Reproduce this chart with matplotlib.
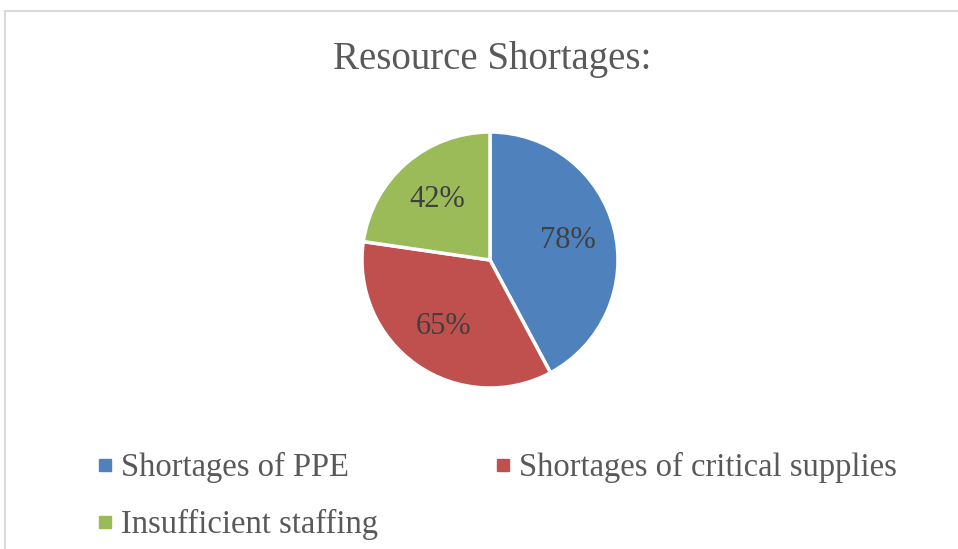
#!/usr/bin/env python3
"""Resource shortages pie chart."""

import matplotlib
matplotlib.use("Agg")
import matplotlib.pyplot as plt
import numpy as np
from matplotlib.lines import Line2D
from matplotlib.patches import Rectangle

TITLE = "Resource Shortages:"
CATEGORIES = ["Shortages of PPE", "Shortages of critical supplies", "Insufficient staffing"]
VALUES = [78, 65, 42]
COLORS = ["#4F81BD", "#C0504D", "#9BBB59"]

plt.rcParams["font.family"] = ["Liberation Serif", "DejaVu Serif"]

W, H = 958, 549
fig = plt.figure(figsize=(W / 100, H / 100), dpi=100)

# light grey chart border (top and left visible)
fig.patches.append(Rectangle((5 / W, -0.1), 2.0, (H - 11) / H + 0.1,
                             transform=fig.transFigure, fill=False,
                             edgecolor="#D9D9D9", linewidth=1.5))

fig.text(492 / W, 1 - 59 / H, TITLE, ha="center", va="center",
         fontsize=28, color="#595959")

cx, cy, r = 490, 260, 128
ax = fig.add_axes([(cx - r) / W, (H - cy - r) / H, 2 * r / W, 2 * r / H])
wedges, _ = ax.pie(VALUES, colors=COLORS, startangle=90, counterclock=False,
                   wedgeprops={"edgecolor": "white", "linewidth": 2.5})
ax.set_xlim(-1, 1)
ax.set_ylim(-1, 1)

total = sum(VALUES)
angle = 90.0
for v in VALUES:
    span = v / total * 360
    mid = np.deg2rad(angle - span / 2)
    ax.text(0.63 * np.cos(mid), 0.63 * np.sin(mid), f"{v}%", ha="center",
            va="center", fontsize=22, color="#404040")
    angle -= span

handles = [Line2D([], [], linestyle="none", marker="s", markersize=8,
                  markerfacecolor=c, markeredgecolor=c) for c in COLORS]
# matplotlib fills legend columns first; reorder so entries read row by row
order = [0, 2, 1]
fig.legend([handles[i] for i in order], [CATEGORIES[i] for i in order],
           loc="upper left", bbox_to_anchor=(97 / W, 1 - 452 / H), ncol=2,
           frameon=False, fontsize=23.5, labelcolor="#595959",
           handlelength=0.5, handletextpad=0.25, columnspacing=3.55,
           labelspacing=0.8, borderpad=0, borderaxespad=0)

fig.savefig("out.png", dpi=100)
